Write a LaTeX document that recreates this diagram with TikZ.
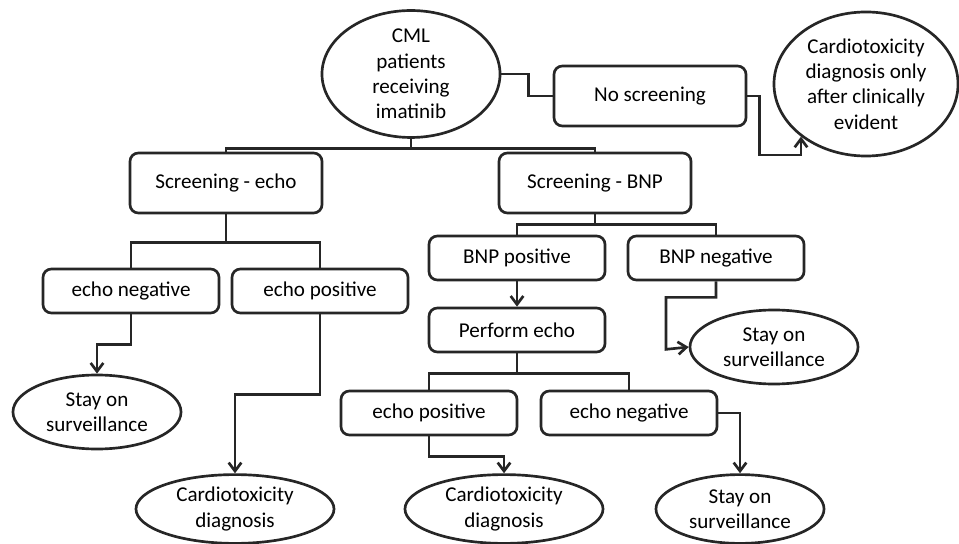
\documentclass[tikz,border=0pt]{standalone}
\usepackage{fontspec}
\setmainfont{Carlito}
\usepackage{tikz}
\usetikzlibrary{arrows.meta, shapes.geometric, positioning}
\tikzset{
    stepbox/.style={rectangle, draw=black!85, line width=1.9pt, rounded corners=6pt, fill=white, align=center, inner sep=0pt, font=\fontsize{15}{18}\selectfont},
    bigbox/.style={stepbox, minimum width=4.8cm, minimum height=1.5cm},
    smallbox/.style={stepbox, minimum width=4.4cm, minimum height=1.1cm},
    outcome/.style={ellipse, draw=black!85, line width=1.9pt, inner sep=0pt, fill=white, align=center, font=\fontsize{15}{18}\selectfont},
    link/.style={draw=black!85, line width=1.9pt},
    arrow/.style={link, -{Straight Barb[length=6pt, width=9pt]}}
}

\begin{document}
\begin{tikzpicture}[x=0.025cm, y=-0.025cm]
    \useasboundingbox (0,0) rectangle (959,544);

    % Start and no screening branch
    \node[outcome, minimum width=4.45cm, minimum height=2.8cm] (cml) at (411,74) {CML\\patients\\receiving\\imatinib};
    \node[bigbox] (noscr) at (650,96) {No screening};
    \node[outcome, minimum width=4.6cm, minimum height=3.6cm] (late) at (866,84) {Cardiotoxicity\\diagnosis only\\after clinically\\evident};

    % Screening branches
    \node[bigbox] (scrEcho) at (226,183) {Screening - echo};
    \node[bigbox] (scrBNP) at (595,183) {Screening - BNP};

    % Echo screening
    \node[smallbox] (echoNeg) at (131,291) {echo negative};
    \node[smallbox] (echoPos) at (320,291) {echo positive};
    \node[outcome, minimum width=4.2cm, minimum height=1.85cm] (stayL) at (97,412) {Stay on\\surveillance};
    \node[outcome, minimum width=4.95cm, minimum height=1.72cm] (cardL) at (235,509) {Cardiotoxicity\\diagnosis};

    % BNP screening
    \node[smallbox] (bnpPos) at (517,258) {BNP positive};
    \node[smallbox] (bnpNeg) at (716,258) {BNP negative};
    \node[smallbox] (perfEcho) at (517,330) {Perform echo};
    \node[outcome, minimum width=4.2cm, minimum height=1.85cm] (stayM) at (774,347) {Stay on\\surveillance};
    \node[smallbox] (echoPosB) at (429,413) {echo positive};
    \node[smallbox] (echoNegB) at (629,413) {echo negative};
    \node[outcome, minimum width=4.95cm, minimum height=1.72cm] (cardM) at (504,509) {Cardiotoxicity\\diagnosis};
    \node[outcome, minimum width=4.2cm, minimum height=1.72cm] (stayR) at (740,509) {Stay on\\surveillance};

    % Connectors
    \coordinate (lowturn) at (0,155);
    \draw[link] (cml.east) -- ++(27,0) |- (noscr.west);
    \draw[arrow] (noscr.east) -- ++(12,0) |- (late.219 |- lowturn) -- (late.219);
    \draw[link] (cml.south) -- ++(0,10) -| (scrEcho.north);
    \draw[link] (cml.south) -- ++(0,10) -| (scrBNP.north);

    \draw[link] (scrEcho.south) -- ++(0,28) -| (echoNeg.north);
    \draw[link] (scrEcho.south) -- ++(0,28) -| (echoPos.north);
    \draw[arrow] (echoNeg.south) -- ++(0,30) -| (stayL.north);
    \draw[arrow] (echoPos.south) -- ++(0,80) -| (cardL.north);

    \draw[link] (scrBNP.south) -- ++(0,10) -| (bnpPos.north);
    \draw[link] (scrBNP.south) -- ++(0,10) -| (bnpNeg.north);
    \draw[arrow] (bnpPos.south) -- (perfEcho.north);
    \draw[arrow] (bnpNeg.south) -- ++(0,16) -| ++(-50,52) -- (stayM.west);
    \draw[link] (perfEcho.south) -- ++(0,20) -| (echoPosB.north);
    \draw[link] (perfEcho.south) -- ++(0,20) -| (echoNegB.north);
    \draw[arrow] (echoPosB.south) -- ++(0,20) -| (cardM.north);
    \draw[arrow] (echoNegB.east) -| (stayR.north);
\end{tikzpicture}
\end{document}
